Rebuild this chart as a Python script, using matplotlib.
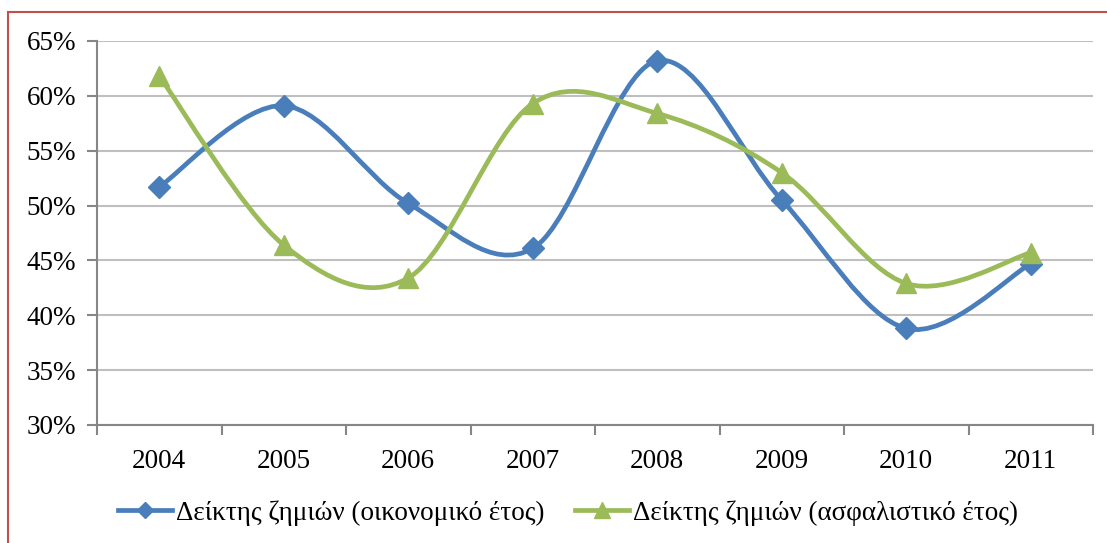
import numpy as np
import matplotlib.pyplot as plt
from matplotlib.path import Path
from matplotlib.patches import PathPatch, Rectangle
from matplotlib.lines import Line2D

plt.rcParams['font.family'] = ['Liberation Serif', 'DejaVu Serif']

years = ['2004', '2005', '2006', '2007', '2008', '2009', '2010', '2011']
fin_year = [51.7, 59.1, 50.2, 46.1, 63.2, 50.5, 38.8, 44.7]      # οικονομικό έτος
ins_year = [61.8, 46.4, 43.4, 59.3, 58.4, 53.0, 42.9, 45.7]      # ασφαλιστικό έτος
labels = ['Δείκτης ζημιών (οικονομικό έτος)', 'Δείκτης ζημιών (ασφαλιστικό έτος)']
yticks = [30, 35, 40, 45, 50, 55, 60, 65]

blue = '#4A7EBB'
green = '#9BBB59'
fs = 19.5


def smooth_path(x, y):
    # Excel-style smoothed line: Catmull-Rom as cubic beziers
    p = np.column_stack([x, y]).astype(float)
    ext = np.vstack([p[0], p, p[-1]])
    verts = [p[0]]
    codes = [Path.MOVETO]
    for i in range(len(p) - 1):
        p0, p1, p2, p3 = ext[i], ext[i + 1], ext[i + 2], ext[i + 3]
        verts += [p1 + (p2 - p0) / 6, p2 - (p3 - p1) / 6, p2]
        codes += [Path.CURVE4] * 3
    return Path(verts, codes)


fig = plt.figure(figsize=(11.07, 5.43), dpi=100)
ax = fig.add_axes([97 / 1107, 118 / 543, 996 / 1107, 384 / 543])

x = np.arange(len(years))
for vals, col, mk, ms in [(fin_year, blue, 'D', 11), (ins_year, green, '^', 15)]:
    ax.add_patch(PathPatch(smooth_path(x, vals), fill=False, edgecolor=col,
                           lw=3.4, capstyle='round', joinstyle='round', zorder=3))
    ax.plot(x, vals, ls='none', marker=mk, ms=ms, color=col, mec=col, zorder=4)

ax.set_xlim(-0.5, len(years) - 0.5)
ax.set_ylim(30, 65)
ax.set_yticks(yticks)
ax.set_yticklabels([f'{v}%' for v in yticks], fontsize=fs)
ax.yaxis.grid(True, color='#BFBFBF', lw=1.5)
ax.set_axisbelow(True)

ax.set_xticks(np.arange(-0.5, len(years)), labels=[])
ax.set_xticks(x, labels=years, minor=True, fontsize=fs)
ax.tick_params(axis='x', which='minor', length=0, pad=17)
ax.tick_params(axis='both', which='major', length=7, width=1.5, color='#868686')
ax.tick_params(axis='y', pad=8)

for s in ['top', 'right']:
    ax.spines[s].set_visible(False)
for s in ['left', 'bottom']:
    ax.spines[s].set_color('#868686')
    ax.spines[s].set_linewidth(1.5)

handles = [Line2D([], [], color=blue, lw=3.4, marker='D', ms=8.5),
           Line2D([], [], color=green, lw=3.4, marker='^', ms=11)]
fig.legend(handles, labels, loc='center', bbox_to_anchor=(568 / 1107, 30 / 543),
           ncol=2, frameon=False, fontsize=fs, handlelength=2.0,
           handletextpad=0.15, columnspacing=1.1)

# red frame around the chart area (only top and left visible)
fig.patches.append(Rectangle((8 / 1107, -0.05), 1.2, (543 - 12) / 543 + 0.05,
                             transform=fig.transFigure, fill=False,
                             edgecolor='#C0504D', lw=1.5))

fig.savefig('out.png', dpi=100)
